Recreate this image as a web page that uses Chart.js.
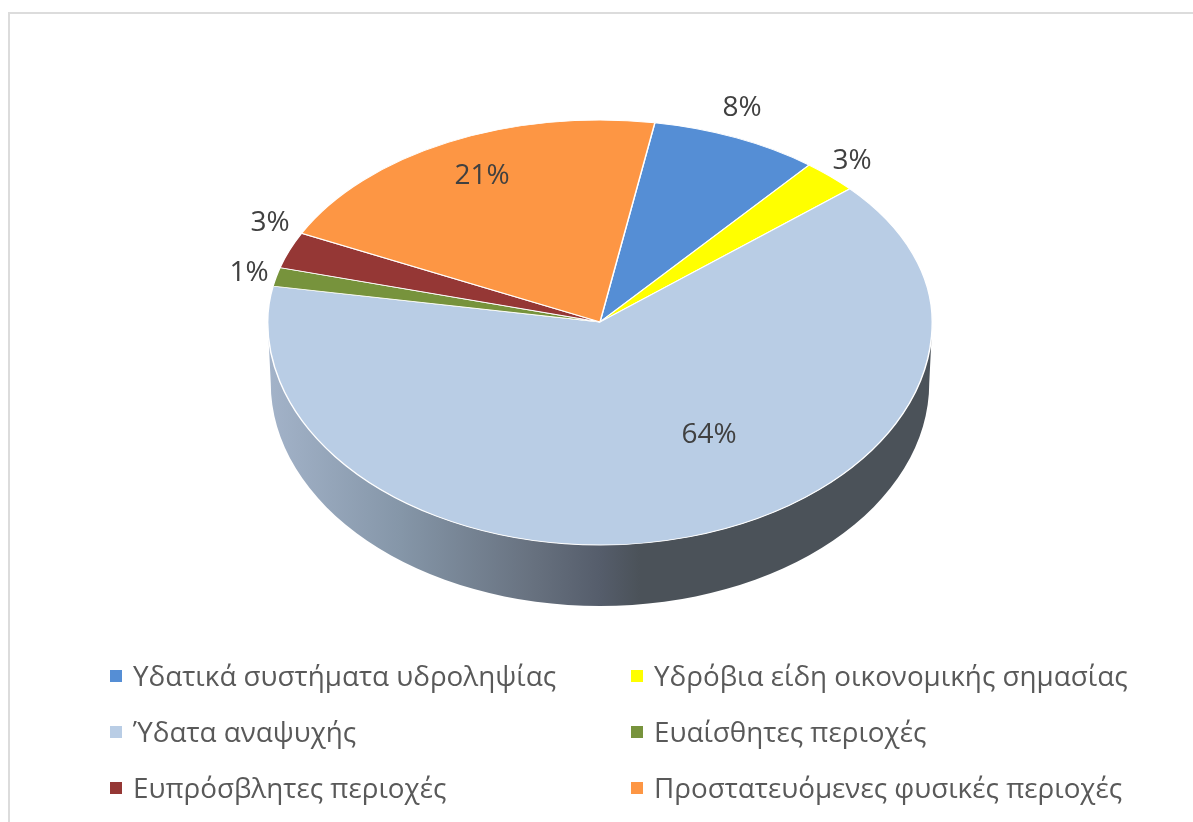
<!DOCTYPE html>
<html>
<head>
<meta charset="utf-8">
<title>Pie</title>
<script src="https://cdn.jsdelivr.net/npm/chart.js@4/dist/chart.umd.min.js"></script>
<style>
    html, body { margin: 0; padding: 0; background: #ffffff; overflow: hidden; }
    #frame { position: absolute; left: 8px; top: 12px; width: 1185px; height: 810px;
             border-left: 2px solid #dcdcdc; border-top: 2px solid #dcdcdc; box-sizing: border-box; }
    canvas { position: absolute; left: 0; top: 0; }
</style>
</head>
<body>
<div id="frame"></div>
<canvas id="pieChart" width="1193" height="822"></canvas>
<script>
const categories = [
    'Υδατικά συστήματα υδροληψίας',
    'Υδρόβια είδη οικονομικής σημασίας',
    'Ύδατα αναψυχής',
    'Ευαίσθητες περιοχές',
    'Ευπρόσβλητες περιοχές',
    'Προστατευόμενες φυσικές περιοχές'
];
const shares = [8.2, 2.7, 64.3, 1.5, 2.9, 20.4];
const shareLabels = ['8%', '3%', '64%', '1%', '3%', '21%'];
const sliceColors = ['#558ed5', '#ffff00', '#b9cde5', '#77933c', '#953735', '#fd9644'];

const FONT = '"Open Sans", "Noto Sans", sans-serif';

// the far half of the pie is flatter than the near half, like the perspective in the picture
const TILT = { cx: 600, cy: 322, ryFar: 202, ryNear: 223, depth: 61 };

function tiltInto(ctx, arc, ry) {
    ctx.translate(TILT.cx, TILT.cy);
    ctx.scale(1, ry / arc.outerRadius);
    ctx.translate(-arc.x, -arc.y);
}

const tiltedPie = {
    id: 'tiltedPie',
    beforeDatasetsDraw(chart) {
        const ctx = chart.ctx;
        const arc = chart.getDatasetMeta(0).data[0];
        const rx = arc.outerRadius;
        const { cx, cy, ryNear, depth } = TILT;
        // rim under the front half
        const grad = ctx.createLinearGradient(cx - rx, 0, cx + rx, 0);
        grad.addColorStop(0, '#a3b3c9');
        grad.addColorStop(0.2, '#8596a8');
        grad.addColorStop(0.4, '#67717f');
        grad.addColorStop(0.5, '#555d6b');
        grad.addColorStop(0.56, '#4b5259');
        grad.addColorStop(1, '#4b5259');
        ctx.save();
        ctx.beginPath();
        ctx.moveTo(cx - rx, cy);
        ctx.lineTo(cx - rx + 3, cy + depth);
        ctx.ellipse(cx, cy + depth, rx - 3, ryNear, 0, Math.PI, 0, true);
        ctx.lineTo(cx + rx, cy);
        ctx.ellipse(cx, cy, rx, ryNear, 0, 0, Math.PI, false);
        ctx.closePath();
        ctx.fillStyle = grad;
        ctx.fill();
        ctx.restore();
        // library draws the near half here
        ctx.save();
        ctx.beginPath();
        ctx.rect(0, cy, chart.width, chart.height - cy);
        ctx.clip();
        tiltInto(ctx, arc, ryNear);
    },
    afterDatasetsDraw(chart) {
        const ctx = chart.ctx;
        const meta = chart.getDatasetMeta(0);
        ctx.restore();
        // same arcs again for the far half
        ctx.save();
        ctx.beginPath();
        ctx.rect(0, 0, chart.width, TILT.cy);
        ctx.clip();
        tiltInto(ctx, meta.data[0], TILT.ryFar);
        meta.controller.draw();
        ctx.restore();
    }
};

// percent labels, offsets from the pie centre
const labelOffsets = [[142, -216], [252, -163], [109, 111], [-351, -51], [-330, -101], [-118, -148]];

const shareText = {
    id: 'shareText',
    afterDraw(chart) {
        const ctx = chart.ctx;
        ctx.save();
        ctx.font = '28px ' + FONT;
        ctx.fillStyle = '#404040';
        ctx.textAlign = 'center';
        ctx.textBaseline = 'middle';
        shareLabels.forEach((txt, i) => {
            ctx.fillText(txt, TILT.cx + labelOffsets[i][0], TILT.cy + labelOffsets[i][1] + 2);
        });
        ctx.restore();
    }
};

// two column legend, library legend can't line up the columns
const legendColumns = [110, 631];
const legendRows = [676, 732, 788];

const twoColumnLegend = {
    id: 'twoColumnLegend',
    afterDraw(chart) {
        const ctx = chart.ctx;
        const items = chart.options.plugins.legend.labels.generateLabels(chart);
        ctx.save();
        ctx.font = '27.8px ' + FONT;
        ctx.textBaseline = 'middle';
        items.forEach((item, i) => {
            const x = legendColumns[i % 2];
            const y = legendRows[Math.floor(i / 2)];
            ctx.fillStyle = item.fillStyle;
            ctx.fillRect(x, y - 6, 12, 12);
            ctx.fillStyle = '#595959';
            ctx.fillText(item.text, x + 23, y + 2);
        });
        ctx.restore();
    }
};

new Chart(document.getElementById('pieChart'), {
    type: 'pie',
    data: {
        labels: categories,
        datasets: [{
            data: shares,
            backgroundColor: sliceColors,
            borderColor: '#ffffff',
            borderWidth: 1.5
        }]
    },
    options: {
        responsive: false,
        animation: false,
        rotation: 9.5,
        layout: { padding: { left: 267, right: 260, top: 0, bottom: 156 } },
        plugins: {
            legend: { display: false },
            tooltip: { enabled: false }
        }
    },
    plugins: [tiltedPie, shareText, twoColumnLegend]
});
</script>
</body>
</html>
